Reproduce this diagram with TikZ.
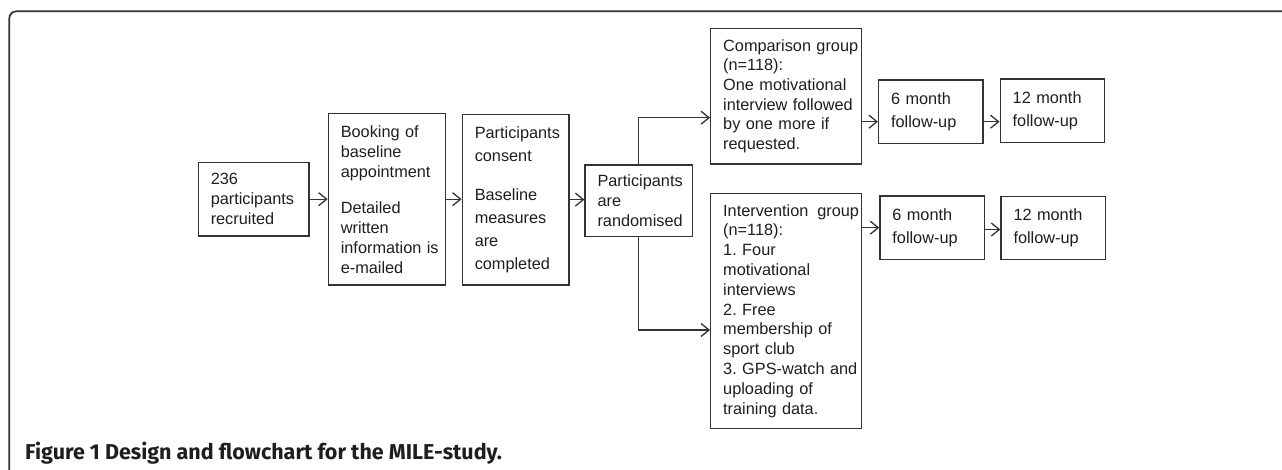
\documentclass[tikz,border=0pt]{standalone}
\usepackage{fontspec}
\setmainfont{Liberation Sans}
\newfontfamily\capfont{Fira Sans}
\usetikzlibrary{arrows.meta}
\definecolor{ln}{HTML}{333333}
\definecolor{tx}{HTML}{1E1E1E}
\hyphenpenalty=10000
\exhyphenpenalty=10000
\frenchspacing
\begin{document}
\begin{tikzpicture}[x=1pt,y=-1pt,
  box/.style={draw=ln, line width=1.3pt, text=tx, align=left, inner xsep=12.5pt, inner ysep=0pt,
              font=\fontsize{16.3}{20}\selectfont},
  wide/.style={font=\fontsize{16.3}{23}\selectfont},
  arr/.style={draw=ln, line width=1.3pt, -{Straight Barb[length=8pt,width=13pt,line width=1.3pt]}},
  frame/.style={draw=ln, line width=1.7pt, rounded corners=7pt}]
\useasboundingbox (0,0) rectangle (1282,470);
% outer frame
\draw[frame] (9.3,475) -- (9.3,11.3) -- (1290,11.3);
% boxes
\node[box, text width=85.7pt, minimum height=73.7pt] (b1) at (253.6,199.2)
  {236\\participants\\recruited};
\node[box, text width=92.4pt, minimum height=171.7pt] (b2) at (387,199.2)
  {\mbox{Booking of}\\baseline\\appointment\\[16pt]Detailed\\written\\\mbox{information is}\\e-mailed};
\node[box, wide, text width=81.7pt, minimum height=170.7pt] (b3) at (515.6,199.6)
  {Participants\\consent\\[16pt]Baseline\\measures\\are\\completed};
\node[box, text width=82.5pt, minimum height=71.7pt] (b4) at (638.8,200.8)
  {Participants\\are\\randomised};
\node[box, font=\fontsize{16.3}{19.7}\selectfont, text width=126pt, minimum height=135.7pt] (comp) at (786.2,96.2)
  {\mbox{Comparison group}\\(n=118):\\\mbox{One motivational}\\\mbox{interview followed}\\\mbox{by one more if}\\requested.};
\node[box, font=\fontsize{16.3}{19.8}\selectfont, text width=126pt, minimum height=235pt] (inter) at (786.2,310.8)
  {\mbox{Intervention\hspace{9pt}group}\\(n=118):\\\mbox{1. Four}\\motivational\\interviews\\\mbox{2. Free}\\\mbox{membership of}\\\mbox{sport club}\\\mbox{3. GPS-watch and}\\\mbox{uploading of}\\\mbox{training data.}};
\node[box, wide, text width=79.4pt, minimum height=63.3pt] (sa) at (930.8,111.7)
  {\mbox{6 month}\\follow-up};
\node[box, wide, text width=79.4pt, minimum height=63.3pt] (ta) at (1052.4,110.7)
  {\mbox{12 month}\\follow-up};
\node[box, wide, text width=79.8pt, minimum height=63.3pt] (sb) at (932.3,227.7)
  {\mbox{6 month}\\follow-up};
\node[box, wide, text width=79.8pt, minimum height=63pt] (tb) at (1053.4,227.8)
  {\mbox{12 month}\\follow-up};
% helper coordinates
\coordinate (up) at (700,117.7);
\coordinate (dn) at (700,330);
\coordinate (ra) at (900,121.7);
\coordinate (rb) at (900,229.5);
% connectors
\draw[arr] (b1.east) -- (b1.east -| b2.west);
\draw[arr] (b2.east) -- (b2.east -| b3.west);
\draw[arr] (b3.east) -- (b3.east -| b4.west);
\draw[arr] (b4.north) |- (up -| comp.west);
\draw[arr] (b4.south) |- (dn -| inter.west);
\draw[arr] (ra -| comp.east) -- (ra -| sa.west);
\draw[arr] (ra -| sa.east) -- (ra -| ta.west);
\draw[arr] (sb.west -| inter.east) -- (sb.west);
\draw[arr] (rb -| sb.east) -- (rb -| tb.west);
% caption
\node[anchor=base west, inner sep=0pt, text=tx, font=\capfont\bfseries\fontsize{21.5}{24}\selectfont] (cap) at (25,459)
  {Figure 1 Design and flowchart for the MILE-study.};
\end{tikzpicture}
\end{document}
